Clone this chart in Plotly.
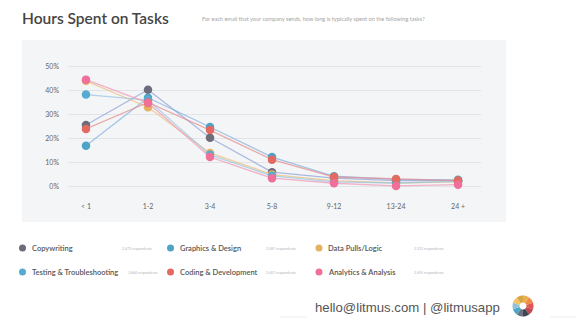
import math
import plotly.graph_objects as go

categories = ["< 1", "1-2", "3-4", "5-8", "9-12", "13-24", "24 +"]
series_names = ["Copywriting", "Graphics & Design", "Data Pulls/Logic",
                "Testing & Troubleshooting", "Coding & Development", "Analytics & Analysis"]
copywriting = [25.6, 40.3, 20.3, 6.0, 3.5, 2.5, 2.5]
graphics = [17.0, 37.0, 24.8, 12.3, 4.3, 3.0, 2.8]
data_pulls = [44.0, 33.0, 14.0, 5.0, 2.5, 1.5, 2.0]
testing = [38.3, 36.0, 13.2, 4.5, 2.0, 1.5, 2.2]
coding = [24.0, 35.0, 23.5, 11.2, 4.0, 3.2, 2.5]
analytics = [44.5, 34.8, 12.3, 3.5, 1.4, 0.3, 0.8]
respondents = ["2,472 respondents", "2,587 respondents", "2,312 respondents",
               "2,644 respondents", "2,607 respondents", "2,455 respondents"]
y_ticks = [0, 10, 20, 30, 40, 50]
y_tick_labels = ["0%", "10%", "20%", "30%", "40%", "50%"]

values = [copywriting, graphics, data_pulls, testing, coding, analytics]
marker_colors = ["#6c6c7a", "#4fa3c6", "#e6b15e", "#55acd0", "#e36a60", "#f0709a"]
line_colors = ["rgba(140,160,215,0.7)", "rgba(130,175,220,0.7)", "rgba(235,190,120,0.7)",
               "rgba(150,195,225,0.7)", "rgba(230,140,140,0.7)", "rgba(240,150,180,0.7)"]
logo_colors = ["#e8b04e", "#ef8a4a", "#e0574f", "#c34a55", "#3f4752",
               "#6b7480", "#4ba7c9", "#8fc2d6", "#f2c46a", "#d9a441"]

W, H = 583, 328
ML, MR, MT, MB = 68, 102, 64, 139
PW, PH = W - ML - MR, H - MT - MB


def px(xp):
    return (xp - ML) / PW


def py(yp):
    return (H - MB - yp) / PH


fig = go.Figure()
for name, vals, mc, lc in zip(series_names, values, marker_colors, line_colors):
    fig.add_trace(go.Scatter(
        x=categories, y=vals, name=name, mode="lines+markers",
        line=dict(color=lc, width=1.3),
        marker=dict(color=mc, size=8.5),
        cliponaxis=False, showlegend=False,
    ))

shapes = [
    dict(type="rect", xref="paper", yref="paper", x0=px(22), x1=px(506),
         y0=py(222), y1=py(40), fillcolor="#f4f5f7", line=dict(width=0), layer="below"),
    dict(type="line", xref="paper", yref="paper", x0=px(280), x1=px(307),
         y0=py(317), y1=py(317), line=dict(color="#eeeeee", width=1)),
    dict(type="line", xref="paper", yref="paper", x0=px(550), x1=px(576),
         y0=py(317), y1=py(317), line=dict(color="#eeeeee", width=1)),
]

# Logo ring (decorative), drawn as wedge paths in paper coordinates
lcx, lcy, r_out, r_in = 523, 306, 10.5, 3.5
n = len(logo_colors)
for k, col in enumerate(logo_colors):
    a0 = -math.pi / 2 + 2 * math.pi * k / n
    a1 = a0 + 2 * math.pi / n
    pts = []
    steps = 6
    for s in range(steps + 1):
        a = a0 + (a1 - a0) * s / steps
        pts.append((lcx + r_out * math.cos(a), lcy + r_out * math.sin(a)))
    for s in range(steps, -1, -1):
        a = a0 + (a1 - a0) * s / steps
        pts.append((lcx + r_in * math.cos(a), lcy + r_in * math.sin(a)))
    path = "M " + " L ".join(f"{px(x):.5f},{py(y):.5f}" for x, y in pts) + " Z"
    shapes.append(dict(type="path", xref="paper", yref="paper", path=path,
                       fillcolor=col, line=dict(width=0)))

annotations = [
    dict(text="Hours Spent on Tasks", x=px(20), y=py(18), xref="paper", yref="paper",
         xanchor="left", yanchor="middle", showarrow=False,
         font=dict(family="Lato", size=15.5, color="#454545", weight=600)),
    dict(text="For each email that your company sends, how long is typically spent on the following tasks?",
         x=px(200), y=py(19), xref="paper", yref="paper", xanchor="left", yanchor="middle",
         showarrow=False, font=dict(family="Lato", size=5.6, color="#a5a5a5")),
    dict(text="hello@litmus.com | @litmusapp", x=px(502), y=py(307), xref="paper", yref="paper",
         xanchor="right", yanchor="middle", showarrow=False,
         font=dict(family="Liberation Sans", size=13.2, color="#555555")),
]

dot_x = [22.5, 170.5, 319]
text_x = [30, 178, 326]
count_x = [120, 264, 412]
row_y = [248, 272]
for i, (name, mc, resp) in enumerate(zip(series_names, marker_colors, respondents)):
    col, row = i % 3, i // 3
    cy = row_y[row]
    shapes.append(dict(type="circle", xref="paper", yref="paper",
                       x0=px(dot_x[col] - 3.5), x1=px(dot_x[col] + 3.5),
                       y0=py(cy - 3.5), y1=py(cy + 3.5),
                       fillcolor=mc, line=dict(width=0)))
    annotations.append(dict(text=name, x=px(text_x[col]), y=py(cy), xref="paper", yref="paper",
                            xanchor="left", yanchor="middle", showarrow=False,
                            font=dict(family="Lato", size=7.5, color="#555555", weight=600)))
    cx = count_x[col] + (6 if (row == 1 and col == 0) else 0)
    annotations.append(dict(text=resp, x=px(cx), y=py(cy), xref="paper", yref="paper",
                            xanchor="left", yanchor="middle", showarrow=False,
                            font=dict(family="Lato", size=3.6, color="#b5b5b5")))

fig.update_layout(
    width=W, height=H, margin=dict(l=ML, r=MR, t=MT, b=MB),
    paper_bgcolor="white", plot_bgcolor="#f4f5f7",
    shapes=shapes, annotations=annotations,
    xaxis=dict(type="category", range=[-0.29, 6.37], showgrid=False, zeroline=False,
               showline=False, ticks="", ticklabelstandoff=12,
               tickfont=dict(family="Lato", size=7, color="#666666")),
    yaxis=dict(range=[-1, 51], tickvals=y_ticks, ticktext=y_tick_labels,
               showgrid=True, gridcolor="#e3e4e8", gridwidth=1, zeroline=False,
               showline=False, ticks="", ticklabelstandoff=8,
               tickfont=dict(family="Lato", size=7, color="#666666")),
    showlegend=False,
)

fig.write_html("out.html")
